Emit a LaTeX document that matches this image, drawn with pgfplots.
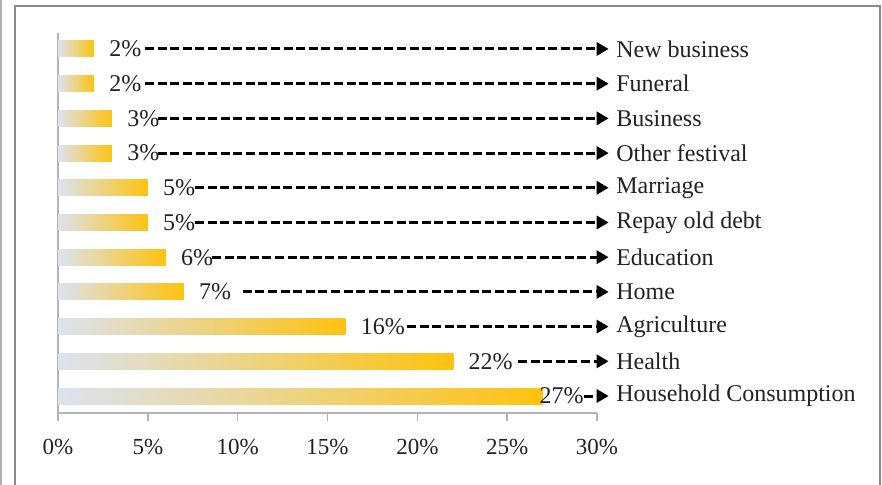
\documentclass[border=0pt]{standalone}
\usepackage{fontspec}
\setmainfont{Liberation Serif}
\usepackage{pgfplots}
\pgfplotsset{compat=1.18}
\usetikzlibrary{arrows.meta}
\definecolor{barL}{HTML}{DCE3F0}
\definecolor{barR}{HTML}{FFC20E}
\definecolor{axgray}{HTML}{B4B4B4}
\definecolor{framegray}{HTML}{8A8A8A}
\definecolor{txt}{HTML}{222222}
\begin{document}
\begin{tikzpicture}
\useasboundingbox (0,0) rectangle (441pt,242pt);
\draw[framegray, line width=1pt] (7.5pt,-10pt) -- (7.5pt,239pt) -- (440pt,239pt) -- (440pt,-10pt);
\draw[gray!60, line width=0.8pt] (0.6pt,-5pt) -- (0.6pt,250pt);
\begin{axis}[
  at={(29pt,35.5pt)}, anchor=south west,
  scale only axis, width=269.5pt, height=190pt,
  xmin=0, xmax=30, ymin=-0.49, ymax=10.46,
  axis lines*=left,
  axis line style={axgray, line width=1pt},
  xtick={0,5,...,30},
  xticklabel={\pgfmathprintnumber{\tick}\%},
  ytick=\empty,
  tick align=outside,
  major tick length=4pt,
  tick style={axgray, line width=0.8pt},
  xticklabel style={font=\fontsize{11.5}{13}\selectfont, text=txt, anchor=north, inner sep=0pt, yshift=-9pt},
  /pgf/number format/assume math mode=true,
  clip=false,
  no markers,
  point meta=x,
  every axis plot/.append style={xbar, bar width=8pt, bar shift=0pt, draw=none, left color=barL, right color=barR,
    nodes near coords={\pgfmathprintnumber{\pgfplotspointmeta}\%},
    every node near coord/.style={anchor=west, inner sep=0pt, xshift=7.5pt, font=\fontsize{12}{14}\selectfont, text=txt}},
]
\addplot[every node near coord/.append style={xshift=-9.5pt}] coordinates {(27,0)};
\addplot coordinates {(22,1)};
\addplot coordinates {(16,2)};
\addplot coordinates {(7,3)};
\addplot coordinates {(6,4)};
\addplot coordinates {(5,5)};
\addplot coordinates {(5,6)};
\addplot coordinates {(3,7)};
\addplot coordinates {(3,8)};
\addplot coordinates {(2,9)};
\addplot coordinates {(2,10)};

\tikzset{arr/.style={black, line width=1.5pt, dash pattern=on 4.5pt off 1.8pt, -{Triangle[length=6pt,width=6.5pt]}}}
\draw[arr] (axis cs:29.3,0) -- (axis cs:30.65,0);
\draw[arr] (axis cs:25.6,1) -- (axis cs:30.65,1);
\draw[arr] (axis cs:19.42,2) -- (axis cs:30.65,2);
\draw[arr] (axis cs:10.29,3) -- (axis cs:30.65,3);
\draw[arr] (axis cs:8.57,4) -- (axis cs:30.65,4);
\draw[arr] (axis cs:7.62,5) -- (axis cs:30.65,5);
\draw[arr] (axis cs:7.62,6) -- (axis cs:30.65,6);
\draw[arr] (axis cs:5.56,7) -- (axis cs:30.65,7);
\draw[arr] (axis cs:5.56,8) -- (axis cs:30.65,8);
\draw[arr] (axis cs:4.84,9) -- (axis cs:30.65,9);
\draw[arr] (axis cs:4.84,10) -- (axis cs:30.65,10);

\tikzset{cat/.style={anchor=west, inner sep=0pt, font=\fontsize{12}{14}\selectfont, text=txt}}
\node[cat] at (axis cs:31.05,0) {Household Consumption};
\node[cat] at (axis cs:31.05,1) {Health};
\node[cat] at (axis cs:31.05,2) {Agriculture};
\node[cat] at (axis cs:31.05,3) {Home};
\node[cat] at (axis cs:31.05,4) {Education};
\node[cat] at (axis cs:31.05,5) {Repay old debt};
\node[cat] at (axis cs:31.05,6) {Marriage};
\node[cat] at (axis cs:31.05,7) {Other festival};
\node[cat] at (axis cs:31.05,8) {Business};
\node[cat] at (axis cs:31.05,9) {Funeral};
\node[cat] at (axis cs:31.05,10) {New business};
\end{axis}
\end{tikzpicture}
\end{document}
